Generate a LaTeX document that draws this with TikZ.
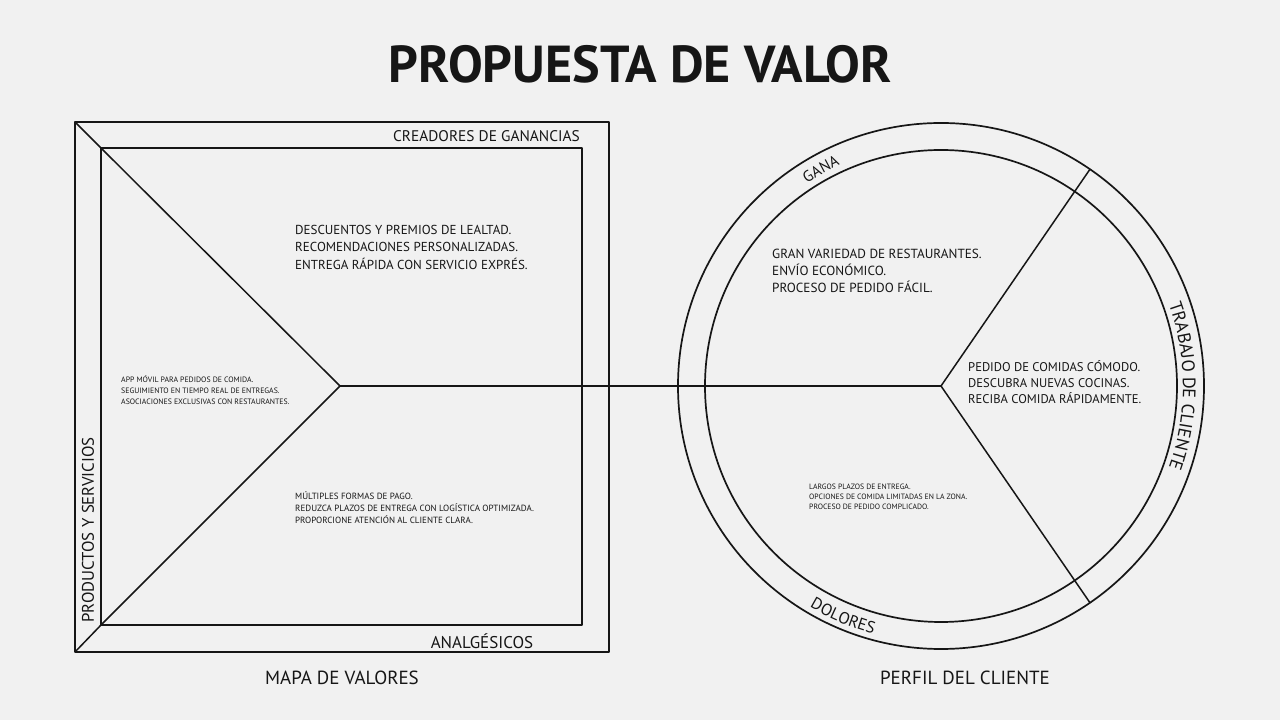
\documentclass[tikz,border=0pt]{standalone}
\usepackage{fontspec}
\setmainfont{PT Sans}
\usetikzlibrary{calc,decorations.text}
\definecolor{paper}{HTML}{F1F1F1}
\definecolor{ink}{HTML}{161616}

\begin{document}
\begin{tikzpicture}[x=1pt, y=1pt,
    frame/.style={draw=ink, line width=2pt, line join=round},
    ring/.style={draw=ink, line width=1.7pt},
    spoke/.style={draw=ink, line width=1.5pt},
    label/.style={text=ink, inner sep=0pt, font=\fontsize{#1}{#1}\selectfont},
    block/.style={text=ink, inner sep=0pt, anchor=north west, align=left, font=#1}]
    \useasboundingbox (0,0) rectangle (1280,720);
    \fill[paper] (0,0) rectangle (1280,720);

    % value map
    \def\xl{75};   \def\xr{609};
    \def\yb{68};   \def\yt{598};
    \def\xil{101}; \def\xir{582};
    \def\yib{95};  \def\yit{572};

    \coordinate (ol) at (\xl, \yt);
    \coordinate (il) at (\xil, \yit);
    \coordinate (obl) at (\xl, \yb);
    \coordinate (ibl) at (\xil, \yib);
    \coordinate (apex) at (340, 334);

    \draw[frame] (\xl, \yb) rectangle (\xr, \yt);
    \draw[frame] (\xil, \yib) rectangle (\xir, \yit);
    \draw[spoke] (ol) -- (il) -- (apex);
    \draw[spoke] (obl) -- (ibl) -- (apex);

    % customer profile
    \def\rout{263}
    \def\rin{236}
    \coordinate (hub) at (941, 334);
    \draw[ring] (hub) circle (\rout);
    \draw[ring] (hub) circle (\rin);
    \coordinate (ju) at ($(hub)+(55.5:\rout)$);
    \coordinate (jd) at ($(hub)+(-55.5:\rout)$);
    \draw[spoke] (hub) -- (ju);
    \draw[spoke] (hub) -- (jd);
    \draw[spoke] (apex) -- (hub);

    % titles
    \node[label=52, font=\fontsize{52}{52}\bfseries\selectfont] (title) at (640, 656) {PROPUESTA DE VALOR};
    \node[label=19] (mapa) at (342, 42) {MAPA DE VALORES};
    \node[label=19] (perfil) at (965, 42) {PERFIL DEL CLIENTE};

    \node[label=15.4, anchor=east] (creadores) at (580, 584) {CREADORES DE GANANCIAS};
    \node[label=17] (analg) at (482, 79) {ANALGÉSICOS};
    \node[label=16.8, rotate=90] (prod) at (88, 190) {PRODUCTOS Y SERVICIOS};

    \path[decorate, decoration={text along path, text align=center,
        text={|\fontsize{15.5}{15.5}\selectfont\color{ink}|GANA}}]
        ($(hub)+(134:243)$) arc (134:104:243);
    \path[decorate, decoration={text along path, text align=center,
        text={|\fontsize{18}{18}\selectfont\color{ink}|TRABAJO DE CLIENTE}}]
        ($(hub)+(34:242)$) arc (34:-34:242);
    \path[decorate, decoration={text along path, text align=center,
        text={|\fontsize{16.5}{16.5}\selectfont\color{ink}|DOLORES}}]
        ($(hub)+(230:257)$) arc (230:264:257);

    % contents
    \node[block=\fontsize{13}{17.5}\selectfont] (creadtxt) at (295, 495)
        {DESCUENTOS Y PREMIOS DE LEALTAD.\\RECOMENDACIONES PERSONALIZADAS.\\ENTREGA RÁPIDA CON SERVICIO EXPRÉS.};
    \node[block=\fontsize{7.8}{11}\selectfont] (prodtxt) at (121, 344)
        {APP MÓVIL PARA PEDIDOS DE COMIDA.\\SEGUIMIENTO EN TIEMPO REAL DE ENTREGAS.\\ASOCIACIONES EXCLUSIVAS CON RESTAURANTES.};
    \node[block=\fontsize{9}{12}\selectfont] (analgtxt) at (295, 229)
        {MÚLTIPLES FORMAS DE PAGO.\\REDUZCA PLAZOS DE ENTREGA CON LOGÍSTICA OPTIMIZADA.\\PROPORCIONE ATENCIÓN AL CLIENTE CLARA.};
    \node[block=\fontsize{13.2}{17}\selectfont] (ganatxt) at (772, 471)
        {GRAN VARIEDAD DE RESTAURANTES.\\ENVÍO ECONÓMICO.\\PROCESO DE PEDIDO FÁCIL.};
    \node[block=\fontsize{12.6}{16}\selectfont] (trabtxt) at (968, 360)
        {PEDIDO DE COMIDAS CÓMODO.\\DESCUBRA NUEVAS COCINAS.\\RECIBA COMIDA RÁPIDAMENTE.};
    \node[block=\fontsize{7.7}{10}\selectfont] (dolortxt) at (809, 236)
        {LARGOS PLAZOS DE ENTREGA.\\OPCIONES DE COMIDA LIMITADAS EN LA ZONA.\\PROCESO DE PEDIDO COMPLICADO.};
\end{tikzpicture}
\end{document}
